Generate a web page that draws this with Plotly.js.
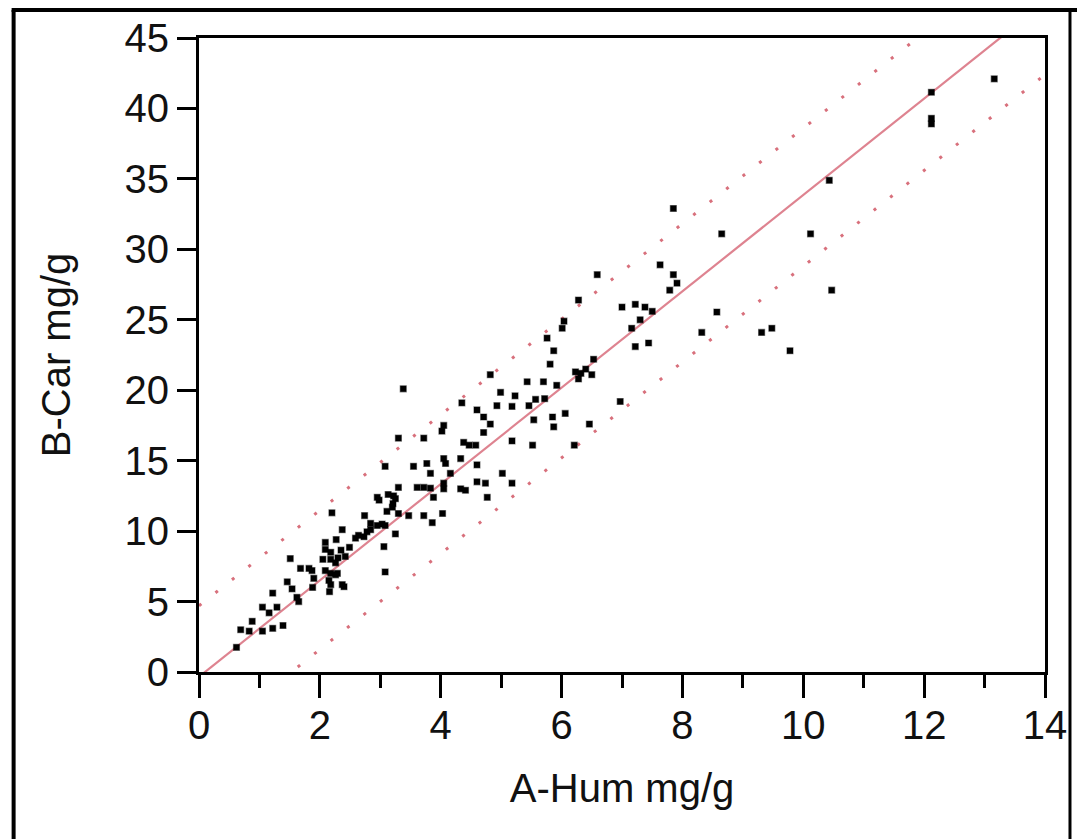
<!DOCTYPE html>
<html>
<head>
<meta charset="utf-8">
<script src="https://cdn.plot.ly/plotly-3.0.1.min.js"></script>
<style>
  html, body { margin: 0; padding: 0; background: #ffffff; }
  #chart { width: 1077px; height: 839px; }
</style>
</head>
<body>
<div id="chart"></div>
<script>
// ---- data ----
const aHum = [
  0.62, 0.69, 0.83, 0.88, 1.05, 1.05, 1.16, 1.29, 1.22, 1.39,
  1.22, 1.46, 1.54, 1.62, 1.65, 1.88, 2.16, 2.40, 2.26, 1.51,
  1.68, 1.82, 1.87, 1.90, 2.09, 2.18, 2.15, 2.18, 2.29, 2.37,
  2.09, 2.09, 2.27, 2.18, 2.35, 2.49, 2.05, 2.18, 2.30, 2.42,
  2.26, 2.59, 2.64, 2.73, 2.84, 2.84, 2.78, 2.95, 3.03, 3.08,
  2.98, 2.74, 3.11, 3.30, 3.22, 3.21, 3.25, 3.06, 2.37, 2.20,
  3.08, 2.95, 3.13, 3.25, 3.30, 3.61, 3.72, 3.83, 4.05, 4.05,
  4.33, 4.41, 4.60, 4.74, 5.18, 3.88, 4.77, 3.20, 4.03, 3.72,
  3.47, 3.86, 3.08, 3.55, 3.77, 3.83, 4.16, 4.08, 4.33, 4.05,
  4.60, 5.02, 3.30, 3.72, 4.38, 4.47, 4.58, 5.18, 5.52, 6.21,
  4.05, 4.02, 4.71, 4.82, 4.71, 4.60, 5.54, 5.85, 5.87, 6.06,
  6.46, 4.35, 4.93, 5.18, 5.46, 5.57, 5.72, 4.99, 5.23, 3.38,
  4.82, 5.43, 5.70, 5.92, 6.28, 6.97, 5.81, 6.23, 6.32, 6.40,
  6.50, 6.53, 5.87, 5.76, 6.01, 6.04, 6.28, 6.59, 7.00, 7.22,
  7.38, 7.50, 7.30, 7.16, 7.44, 7.22, 7.63, 7.85, 7.91, 7.79,
  7.85, 8.65, 8.57, 8.32, 9.31, 9.48, 9.78, 10.47, 10.12, 10.43,
  12.12, 12.12, 12.12, 13.16
];
const bCar = [
  1.75, 3.0, 2.9, 3.6, 2.9, 4.6, 4.2, 4.6, 3.1, 3.3,
  5.6, 6.4, 5.9, 5.3, 5.0, 6.0, 5.7, 6.05, 6.9, 8.05,
  7.35, 7.35, 7.2, 6.65, 7.2, 7.0, 6.5, 6.2, 7.0, 6.2,
  9.2, 8.7, 9.4, 8.5, 8.65, 8.85, 8.0, 8.0, 8.1, 8.2,
  7.75, 9.5, 9.7, 9.6, 10.55, 10.1, 9.95, 10.4, 10.5, 10.4,
  12.2, 11.1, 11.4, 11.25, 12.5, 11.95, 9.8, 8.9, 10.1, 11.3,
  7.1, 12.4, 12.6, 12.3, 13.1, 13.1, 13.1, 13.05, 13.0, 13.4,
  13.0, 12.9, 13.5, 13.4, 13.4, 12.4, 12.4, 11.7, 11.25, 11.1,
  11.1, 10.6, 14.6, 14.6, 14.8, 14.1, 14.1, 14.8, 15.15, 15.15,
  14.7, 14.1, 16.6, 16.6, 16.3, 16.1, 16.1, 16.4, 16.1, 16.1,
  17.5, 17.1, 17.0, 17.6, 18.1, 18.6, 17.9, 18.1, 17.4, 18.35,
  17.6, 19.1, 18.9, 18.85, 18.9, 19.35, 19.4, 19.85, 19.6, 20.1,
  21.1, 20.6, 20.6, 20.35, 20.8, 19.2, 21.85, 21.3, 21.2, 21.5,
  21.1, 22.2, 22.8, 23.7, 24.4, 24.9, 26.4, 28.2, 25.9, 26.1,
  25.9, 25.6, 25.0, 24.4, 23.35, 23.1, 28.9, 28.2, 27.6, 27.1,
  32.9, 31.1, 25.55, 24.1, 24.1, 24.4, 22.8, 27.1, 31.1, 34.9,
  41.15, 39.3, 38.9, 42.1
];

// fitted line and prediction limits (slope, intercept)
const fitLine   = [3.42, -0.34];
const upperLine = [3.39, 4.7];
const lowerLine = [3.40, -5.2];
const lineSpan  = [0, 14];

const xTickVals = [0, 2, 4, 6, 8, 10, 12, 14];
const yTickVals = [0, 5, 10, 15, 20, 25, 30, 35, 40, 45];

// ---- figure ----
const W = 1077, H = 839;
const L = 198.5, R = 1045, T = 38, B = 672;

function lineTrace(coef, dash, width, color) {
  const xs = lineSpan.slice();
  const ys = xs.map(v => coef[0] * v + coef[1]);
  return {
    x: xs, y: ys, type: 'scatter', mode: 'lines',
    line: { color: color, width: width, dash: dash },
    hoverinfo: 'skip', showlegend: false
  };
}

const traces = [
  lineTrace(upperLine, '3px,18px', 3, '#d8707c'),
  lineTrace(lowerLine, '3px,18px', 3, '#d8707c'),
  lineTrace(fitLine, 'solid', 2.2, '#de8390'),
  {
    x: aHum, y: bCar, type: 'scatter', mode: 'markers',
    marker: { symbol: 'square', size: 6, color: '#000000',
              line: { width: 1.2, color: 'rgba(0,0,0,0.45)' } },
    showlegend: false, cliponaxis: false
  }
];

const px2paperX = p => (p - L) / (R - L);
const px2paperY = p => (B - p) / (B - T);

const fontFam = '"Liberation Sans", Arial, "DejaVu Sans", sans-serif';

const layout = {
  width: W, height: H,
  margin: { l: L, r: W - R, t: T, b: H - B, pad: 0 },
  paper_bgcolor: '#ffffff', plot_bgcolor: '#ffffff',
  font: { family: fontFam, size: 40, color: '#111111' },
  showlegend: false,
  xaxis: {
    range: [0, 14], tickvals: xTickVals, ticktext: xTickVals.map(String),
    ticks: 'outside', ticklen: 23, tickwidth: 3, tickcolor: '#000',
    ticklabelstandoff: -7,
    minor: { dtick: 1, ticks: 'outside', ticklen: 13, tickwidth: 3, tickcolor: '#000' },
    showline: true, linewidth: 3, linecolor: '#000', mirror: true,
    showgrid: false, zeroline: false,
    tickfont: { family: fontFam, size: 40, color: '#111' },
    title: { text: 'A-Hum mg/g', font: { family: fontFam, size: 40, color: '#111' }, standoff: 28 }
  },
  yaxis: {
    range: [0, 45], tickvals: yTickVals, ticktext: yTickVals.map(String),
    ticks: 'outside', ticklen: 19, tickwidth: 3, tickcolor: '#000',
    showline: true, linewidth: 3, linecolor: '#000', mirror: true,
    showgrid: false, zeroline: false,
    tickfont: { family: fontFam, size: 40, color: '#111' },
    title: { text: 'B-Car mg/g', font: { family: fontFam, size: 40, color: '#111' }, standoff: 42 }
  },
  shapes: [
    { type: 'line', xref: 'paper', yref: 'paper', x0: px2paperX(13), x1: px2paperX(13), y0: px2paperY(10), y1: px2paperY(860), line: { color: '#000', width: 4 } },
    { type: 'line', xref: 'paper', yref: 'paper', x0: px2paperX(11), x1: px2paperX(1090), y0: px2paperY(10), y1: px2paperY(10), line: { color: '#000', width: 4 } },
    { type: 'line', xref: 'paper', yref: 'paper', x0: px2paperX(1070), x1: px2paperX(1070), y0: px2paperY(10), y1: px2paperY(860), line: { color: '#000', width: 3 } }
  ]
};

Plotly.newPlot('chart', traces, layout, { staticPlot: true, displayModeBar: false });
</script>
</body>
</html>
